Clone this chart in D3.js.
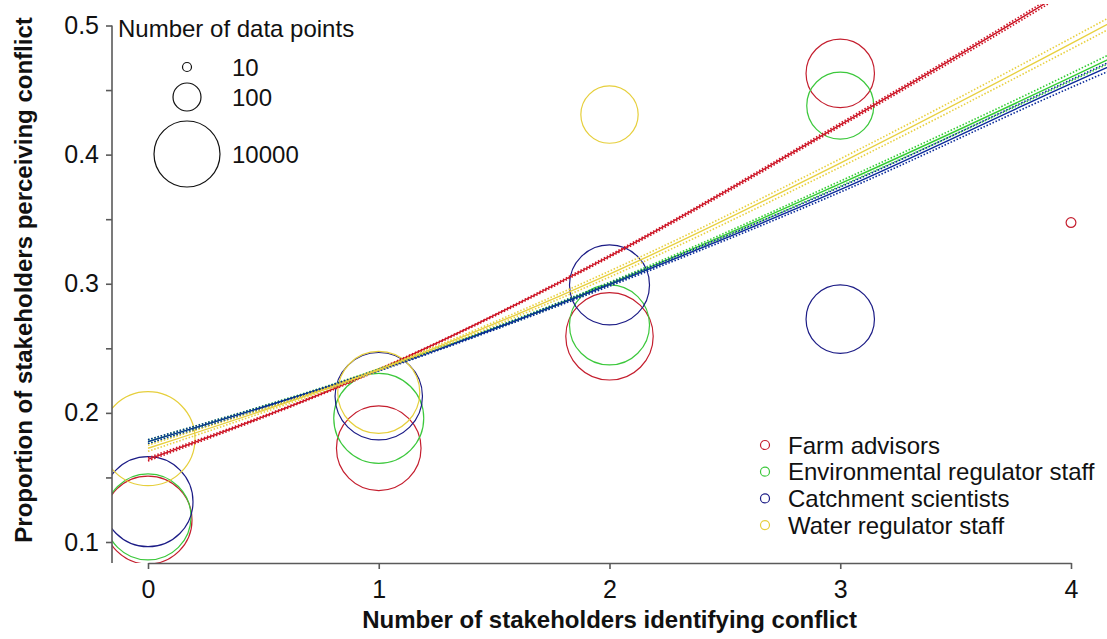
<!DOCTYPE html>
<html>
<head>
<meta charset="utf-8">
<script src="https://cdn.jsdelivr.net/npm/d3@7"></script>
<style>
  body { margin: 0; background: #fff; }
  svg { display: block; font-family: "Liberation Sans", Arial, sans-serif; }
  .tickText { font-size: 25px; fill: #111; }
  .aTitle { font-size: 24px; font-weight: bold; fill: #111; }
  .legText { font-size: 24px; fill: #111; }
</style>
</head>
<body>
<div class="chart"></div>
<script>
// series names and colours
var seriesNames = ['Farm advisors', 'Environmental regulator staff', 'Catchment scientists', 'Water regulator staff'];
var seriesColors = ['#c41e2e', '#3cc83c', '#1c1c86', '#e6cf3c'];
var lineColors = ['#cc1122', '#33cc33', '#0a2a9a', '#e8d040'];

// observed points: x = number identifying, prop = proportion perceiving, n = data points
var farmX = [0, 1, 2, 3, 4];
var farmProp = [0.117, 0.1726, 0.2593, 0.4629, 0.3474];
var farmN = [144000, 95000, 134000, 13400, 11];

var envX = [0, 1, 2, 3];
var envProp = [0.1194, 0.1958, 0.2681, 0.4379];
var envN = [113000, 183000, 54600, 11300];

var catchX = [0, 1, 2, 3];
var catchProp = [0.1312, 0.2129, 0.2991, 0.2726];
var catchN = [183000, 134000, 54600, 13400];

var waterX = [0, 1, 2];
var waterProp = [0.180, 0.2158, 0.431];
var waterN = [298000, 69500, 3500];

// fitted curves (read at these x values) with their dotted bounds
var fitX = [0, 1, 2, 3, 4, 4.2];
var farmFit = [0.164, 0.2335, 0.3213, 0.4231, 0.5295, 0.552];
var farmLo = [0.1628, 0.2330, 0.3204, 0.4218, 0.5276, 0.550];
var farmHi = [0.1652, 0.2340, 0.3222, 0.4244, 0.5314, 0.554];
var envFit = [0.1777, 0.2334, 0.300, 0.3775, 0.460, 0.477];
var envLo = [0.1762, 0.2328, 0.2988, 0.3755, 0.4570, 0.4735];
var envHi = [0.1792, 0.2340, 0.3012, 0.3795, 0.4630, 0.4805];
var catchFit = [0.1777, 0.233, 0.2993, 0.3729, 0.455, 0.471];
var catchLo = [0.1762, 0.2324, 0.2981, 0.3709, 0.4520, 0.4675];
var catchHi = [0.1792, 0.2336, 0.3005, 0.3749, 0.4580, 0.4745];
var waterFit = [0.1726, 0.2334, 0.3075, 0.3935, 0.486, 0.505];
var waterLo = [0.1702, 0.2325, 0.3052, 0.3903, 0.4818, 0.5005];
var waterHi = [0.1750, 0.2343, 0.3098, 0.3967, 0.4902, 0.5095];

// size legend
var sizeLegendN = [10, 100, 10000];
var xTicks = [0, 1, 2, 3, 4];
var yTicks = [0.1, 0.15, 0.2, 0.25, 0.3, 0.35, 0.4, 0.45, 0.5];

var svgWidth = 1107;
var svgHeight = 639;

var plot = { left: 112, right: 1107, top: 4, bottom: 563 };

var svg = d3.select('.chart')
  .append('svg')
  .attr('width', svgWidth)
  .attr('height', svgHeight);

var xScale = d3.scaleLinear().domain([0, 4]).range([148, 1071]);
var yScale = d3.scaleLinear().domain([0.1, 0.5]).range([542, 25.5]);
var rScale = d3.scaleLog().domain([10, 10000]).range([4.5, 33]);

svg.append('clipPath').attr('id', 'plotClip')
  .append('rect')
  .attr('x', plot.left).attr('y', plot.top)
  .attr('width', plot.right - plot.left).attr('height', plot.bottom - plot.top);

var chartGroup = svg.append('g').attr('clip-path', 'url(#plotClip)');

var series = [
  { x: farmX, p: farmProp, n: farmN, fit: farmFit, lo: farmLo, hi: farmHi },
  { x: envX, p: envProp, n: envN, fit: envFit, lo: envLo, hi: envHi },
  { x: catchX, p: catchProp, n: catchN, fit: catchFit, lo: catchLo, hi: catchHi },
  { x: waterX, p: waterProp, n: waterN, fit: waterFit, lo: waterLo, hi: waterHi }
];

// circles
series.forEach(function(s, i) {
  var pts = s.x.map(function(d, j) { return { x: d, p: s.p[j], n: s.n[j] }; });
  chartGroup.selectAll('circle.s' + i)
    .data(pts)
    .enter()
    .append('circle')
    .attr('class', 's' + i)
    .attr('cx', d => xScale(d.x))
    .attr('cy', d => yScale(d.p))
    .attr('r', d => rScale(d.n))
    .attr('fill', 'none')
    .attr('stroke', seriesColors[i])
    .attr('stroke-width', 1.2);
});

// fitted lines
var line = d3.line()
  .x(d => xScale(d[0]))
  .y(d => yScale(d[1]))
  .curve(d3.curveMonotoneX);

series.forEach(function(s, i) {
  [s.lo, s.hi].forEach(function(arr) {
    chartGroup.append('path')
      .datum(fitX.map((d, j) => [d, arr[j]]))
      .attr('d', line)
      .attr('fill', 'none')
      .attr('stroke', lineColors[i])
      .attr('stroke-width', 1.6)
      .attr('stroke-dasharray', '1.5,1.8');
  });
  chartGroup.append('path')
    .datum(fitX.map((d, j) => [d, s.fit[j]]))
    .attr('d', line)
    .attr('fill', 'none')
    .attr('stroke', lineColors[i])
    .attr('stroke-width', 1.4);
});

// axes
var bottomAxis = d3.axisBottom(xScale).tickValues(xTicks).tickFormat(d3.format('d'))
  .tickSize(6).tickSizeOuter(0).tickPadding(5);
var gx = svg.append('g')
  .attr('transform', `translate(0, ${plot.bottom})`)
  .call(bottomAxis);
gx.selectAll('text').attr('class', 'tickText').attr('font-size', null).attr('font-family', null)
  .attr('dy', '0.95em');

var leftAxis = d3.axisLeft(yScale).tickValues(yTicks).tickSize(6).tickSizeOuter(0).tickPadding(7)
  .tickFormat(d => (Math.round(d * 100) % 10 === 0) ? d3.format('.1f')(d) : '');
var gy = svg.append('g')
  .attr('transform', `translate(${plot.left}, 0)`)
  .call(leftAxis);
gy.selectAll('text').attr('class', 'tickText').attr('font-size', null).attr('font-family', null);
gy.select('.domain').attr('d', `M0,${yScale(0.5)}V${plot.bottom}`);

svg.selectAll('.domain, .tick line').attr('stroke', '#5a5a5a').attr('stroke-width', 1.6);

// axis titles
svg.append('text')
  .attr('class', 'aTitle')
  .attr('text-anchor', 'middle')
  .attr('transform', `translate(${(plot.left + plot.right) / 2}, 628)`)
  .text('Number of stakeholders identifying conflict');

svg.append('text')
  .attr('class', 'aTitle')
  .attr('text-anchor', 'middle')
  .attr('transform', 'translate(32, 280) rotate(-90)')
  .text('Proportion of stakeholders perceiving conflict');

// size legend
svg.append('text')
  .attr('class', 'legText')
  .attr('x', 118).attr('y', 37)
  .text('Number of data points');

var sizeY = [67, 97, 154];
var sizeLeg = svg.selectAll('g.sizeLeg')
  .data(sizeLegendN)
  .enter()
  .append('g')
  .attr('class', 'sizeLeg')
  .attr('transform', (d, i) => `translate(187, ${sizeY[i]})`);
sizeLeg.append('circle')
  .attr('r', d => rScale(d))
  .attr('fill', 'none')
  .attr('stroke', '#111')
  .attr('stroke-width', 1.2);
sizeLeg.append('text')
  .attr('class', 'legText')
  .attr('x', 45)
  .attr('dy', '0.36em')
  .text(d => d);

// series legend
var serLeg = svg.selectAll('g.serLeg')
  .data(seriesNames)
  .enter()
  .append('g')
  .attr('class', 'serLeg')
  .attr('transform', (d, i) => `translate(765, ${445 + i * 26.7})`);
serLeg.append('circle')
  .attr('r', 4.5)
  .attr('fill', 'none')
  .attr('stroke', (d, i) => seriesColors[i])
  .attr('stroke-width', 1.2);
serLeg.append('text')
  .attr('class', 'legText')
  .attr('x', 23)
  .attr('dy', '0.36em')
  .text(d => d);
</script>
</body>
</html>
